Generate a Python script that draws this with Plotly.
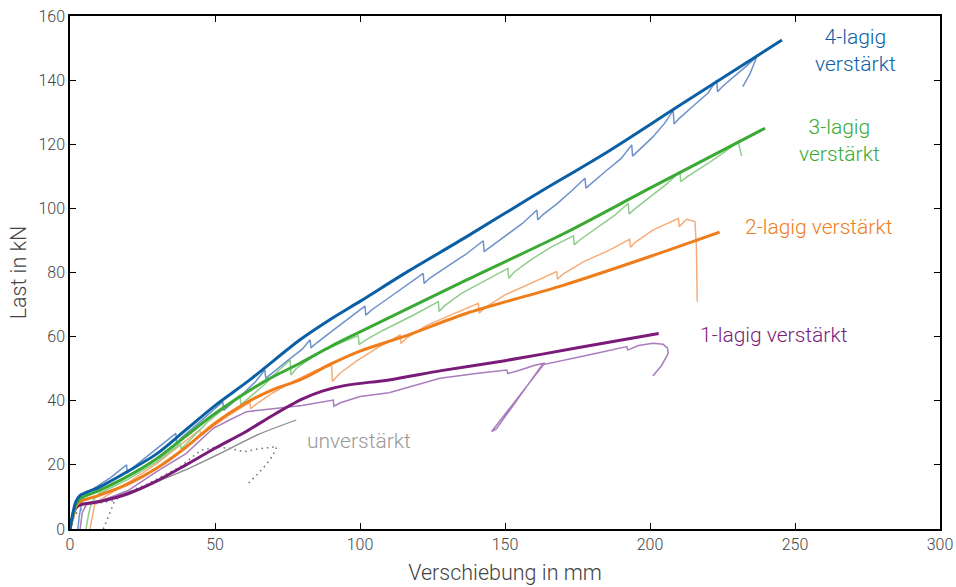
import plotly.graph_objects as go

# ---------------- data ----------------
# thick (model) curves
blue_x = [0, 1, 2, 3.5, 10, 20, 30, 40, 50, 62, 79.3, 90, 100, 115, 136.8, 160, 186, 210, 245.5]
blue_y = [0, 5, 8.5, 10.5, 13, 18, 23.5, 31, 38.5, 46.5, 59, 65.5, 71, 79.5, 91.2, 104, 118, 132, 152.5]

green_x = [0, 1, 2, 3.5, 10, 20, 30, 40, 50, 68, 79.3, 90, 100, 136.8, 170, 200, 239.7]
green_y = [0, 4.5, 7.5, 9.5, 12, 16.5, 22, 29, 36, 46.5, 51.7, 57, 61.5, 77.7, 92, 106.3, 125]

orange_x = [0, 1, 2, 3.5, 10, 20, 30, 40, 50, 60, 70, 79.3, 90, 100, 115, 136.8, 170, 200, 224]
orange_y = [0, 4, 7, 8.5, 10.5, 14, 19, 25.5, 33, 39, 43.5, 46.5, 51.5, 55.5, 60, 67.3, 76, 85, 92.6]

purple_x = [0, 1, 2, 3.5, 10, 20, 30, 40, 50, 60, 70, 80, 87, 95, 110, 128, 150, 175, 203]
purple_y = [0, 4, 6.5, 7.5, 8.5, 11, 15, 20, 25.2, 30, 35.5, 40.5, 43, 44.8, 46.5, 49.4, 52.5, 56.5, 61]

# thin (test) curves
blue_t_x = [2.7, 3.2, 4.0, 5.0, 8, 14, 19.5, 19.8, 21.5, 27, 32, 36.5, 36.8, 38.5, 43, 48, 52.7, 53.0, 55, 60, 64, 67.2,
            67.5, 69.5, 75, 80, 82.8, 83.1, 85, 90, 96, 101.7, 102.0, 104, 109, 116, 121.8, 122.1, 124, 130, 137, 142.5,
            142.8, 145, 150, 156, 161, 161.3, 163, 168, 173, 177.6, 177.9, 180, 185, 190, 193.7, 194.0, 196, 201, 205,
            208, 208.3, 210, 215, 220, 223, 223.3, 225, 230, 234, 236.8, 234.5, 232]
blue_t_y = [0, 4, 8, 10.5, 12.5, 16, 20, 17.5, 19, 23, 26.8, 29.8, 26.8, 28.5, 32, 36, 39.7, 37, 38.5, 42.5, 46, 49.6,
            47, 48.5, 52.5, 56, 59, 56.5, 58, 61.5, 65.5, 69.5, 66.7, 68.3, 71.5, 76, 79.7, 76.6, 78.2, 81.8, 86, 89.9,
            86.5, 88, 91.3, 95.3, 99.5, 96.4, 98, 101.5, 105.5, 109.4, 106.3, 108, 111.8, 115.5, 119.8, 116.3, 118,
            122.3, 126.5, 130.5, 126.3, 128, 132, 136, 140, 136.4, 138, 141.8, 145, 147.3, 142, 138]

green_t_x = [5.5, 6.5, 7.5, 10, 20, 30, 38, 38.3, 40, 47, 53, 58.6, 58.9, 61, 67, 72, 75.9, 76.2, 78, 84, 92, 99.4,
             99.7, 102, 108, 118, 127, 127.3, 129, 135, 143, 151, 151.3, 153, 159, 166, 173.6, 173.9, 176, 182, 188,
             192.5, 192.8, 195, 200, 206, 210.3, 210.6, 213, 220, 226, 230.4, 231.6]
green_t_y = [0, 5, 8.5, 11, 15.5, 21, 26.5, 25, 26.5, 33, 37.5, 41.8, 38.7, 40.3, 45, 49.5, 52.7, 48, 50, 54, 57.5,
             60.3, 57.5, 59, 62, 66.5, 70.9, 67.8, 69.5, 73.5, 77.5, 81.3, 78.2, 80, 84, 88, 91.4, 88.6, 90.3, 94.2,
             98, 101.6, 98.3, 100, 103.5, 107.8, 111.5, 108.3, 110, 114, 117.8, 120.8, 116.3]

orange_t_x = [6.9, 7.8, 8.6, 12, 20, 30, 40, 44.8, 45.1, 47, 54, 62, 62.3, 64, 70, 78, 85, 90.2, 90.5, 93, 99, 106,
              113.8, 114.1, 116, 123, 132, 140.8, 141.1, 143, 150, 159, 167.8, 168.1, 170, 177, 186, 193, 193.3, 195,
              201, 209.8, 210.1, 212.6, 215.5, 216, 216.3]
orange_t_y = [0, 5, 8, 10, 14.5, 20.5, 27.5, 31, 29, 30.5, 35, 39.5, 37.5, 38.8, 42.5, 46.5, 49.5, 51, 46, 48.5, 52.5,
              56.5, 60.5, 57.9, 59.5, 63.5, 67, 70.4, 67.3, 69, 73, 76.8, 80.3, 77.9, 79.5, 83.3, 87, 90.4, 87.9, 89.5,
              93.2, 96.9, 94.3, 96.6, 95.9, 88, 70.9]

purple_t_x = [3.5, 4.2, 5.5, 10, 20, 30, 40, 49.4, 55, 60.9, 70, 80, 90.8, 91.0, 93, 100, 110, 120, 127.6, 140, 150.6,
              151.0, 155, 160, 163.7, 145.4, 147, 162.8, 170, 180, 192, 192.3, 196, 201, 204.5, 206, 206.3, 204, 201]
purple_t_y = [0, 5, 7.5, 8.5, 12, 18, 23.5, 31.4, 34, 36.6, 37.5, 38.5, 40.2, 38.3, 39.3, 41.3, 42.5, 45, 47, 48.5,
              49.6, 48.5, 49.5, 51, 51.8, 30.4, 31.2, 51.2, 52.5, 54.5, 56.9, 55.8, 57.2, 57.9, 57.6, 56.5, 54.8, 51,
              47.7]

gray_x = [0, 1, 2, 5, 12, 20, 30, 40, 55, 65, 78]
gray_y = [0, 5, 7.3, 8, 9.3, 11.5, 14.8, 18.5, 25, 29.5, 34]

dot_a_x = [0, 1, 2.3, 5, 8, 12, 15]
dot_a_y = [0, 3, 5, 6.8, 7.8, 8.3, 8.8]

dot_b_x = [11.5, 13.2, 15.5, 20, 27, 38, 45, 50, 55, 60, 65, 71.3, 70, 68, 65.5, 61.5]
dot_b_y = [0, 3.8, 9, 11.5, 14.2, 19.4, 24.5, 25.5, 25.2, 24.1, 25, 25.7, 23, 20.5, 17.9, 14.2]

x_ticks = [0, 50, 100, 150, 200, 250, 300]
y_ticks = [0, 20, 40, 60, 80, 100, 120, 140, 160]

labels = ["4-lagig<br>verstärkt", "3-lagig<br>verstärkt", "2-lagig verstärkt", "1-lagig verstärkt", "unverstärkt"]

# ---------------- styles ----------------
C_BLUE, C_BLUE_L = "#0b5fa5", "#6c92cb"
C_GREEN, C_GREEN_L = "#3aaa35", "#8fcd8a"
C_ORANGE, C_ORANGE_L = "#ef7d1a", "#f5ac78"
C_PURPLE, C_PURPLE_L = "#7b1b79", "#a97cbb"
C_GRAY = "#8a8a8a"
C_DOT = "#6e6e6e"

fig = go.Figure()


def add(x, y, color, width, dash="solid", shape="linear"):
    line = dict(color=color, width=width, dash=dash, shape=shape)
    if shape == "spline":
        line["smoothing"] = 0.8
    fig.add_trace(go.Scatter(x=x, y=y, mode="lines", line=line, hoverinfo="skip", showlegend=False))


add(dot_a_x, dot_a_y, C_DOT, 1.5, "1.5px,4px")
add(dot_b_x, dot_b_y, C_DOT, 1.5, "1.5px,4px")
add(gray_x, gray_y, C_GRAY, 1.3, shape="spline")
add(purple_t_x, purple_t_y, C_PURPLE_L, 1.5)
add(orange_t_x, orange_t_y, C_ORANGE_L, 1.5)
add(green_t_x, green_t_y, C_GREEN_L, 1.5)
add(blue_t_x, blue_t_y, C_BLUE_L, 1.5)
add(purple_x, purple_y, C_PURPLE, 3, shape="spline")
add(orange_x, orange_y, C_ORANGE, 3, shape="spline")
add(green_x, green_y, C_GREEN, 3, shape="spline")
add(blue_x, blue_y, C_BLUE, 3, shape="spline")

FONT = "Roboto, Arial, sans-serif"
ann = [
    dict(x=270.7, y=149.3, text=labels[0], color=C_BLUE),
    dict(x=265.5, y=121.3, text=labels[1], color=C_GREEN),
    dict(x=258.3, y=94.2, text=labels[2], color=C_ORANGE),
    dict(x=242.8, y=60.5, text=labels[3], color=C_PURPLE),
    dict(x=99.7, y=27.4, text=labels[4], color="#999999"),
]
for a in ann:
    fig.add_annotation(x=a["x"], y=a["y"], text=a["text"], showarrow=False, xanchor="center", yanchor="middle",
                       align="center", font=dict(family=FONT, size=21, color=a["color"], weight=300))

axis_common = dict(showline=True, linecolor="black", linewidth=1.6, mirror="ticks", ticks="inside", ticklen=6,
                   tickwidth=1.4, tickcolor="black", showgrid=False, zeroline=False, automargin=False,
                   tickfont=dict(family=FONT, size=16, color="#444444", weight=300))

fig.update_xaxes(range=[0, 300], tickvals=x_ticks, title=dict(text="Verschiebung in mm", standoff=12,
                 font=dict(family=FONT, size=21.5, color="#444444", weight=300)), **axis_common)
fig.update_yaxes(range=[0, 160], tickvals=y_ticks, title=dict(text="Last in kN", standoff=6,
                 font=dict(family=FONT, size=21.5, color="#444444", weight=300)), **axis_common)

fig.update_layout(width=956, height=587, margin=dict(l=70, r=16, t=16, b=58), paper_bgcolor="white",
                  plot_bgcolor="white", showlegend=False)

fig.write_html("out.html")
